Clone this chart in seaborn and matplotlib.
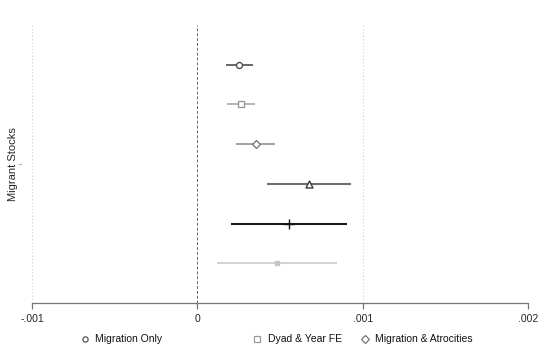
import matplotlib
matplotlib.use("Agg")
import matplotlib.pyplot as plt
from matplotlib.lines import Line2D
import seaborn as sns
import pandas as pd

# Coefficient estimates for migrant stocks across six model specifications
models = ["Migration Only", "Dyad & Year FE", "Migration & Atrocities",
          "Model 4", "Model 5", "Model 6"]
estimate = [0.000254, 0.000266, 0.000357, 0.000678, 0.000555, 0.000482]
ci_low = [0.000175, 0.000181, 0.000236, 0.000424, 0.000206, 0.000119]
ci_high = [0.000339, 0.000351, 0.000472, 0.000932, 0.000906, 0.000845]
xticks = [-0.001, 0, 0.001, 0.002]
xtick_labels = ["-.001", "0", ".001", ".002"]
legend_models = ["Migration Only", "Dyad & Year FE", "Migration & Atrocities"]

df = pd.DataFrame({"model": models, "est": estimate, "lo": ci_low, "hi": ci_high})
df["row"] = range(1, len(df) + 1)

markers = ["o", "s", "D", "^", "+", "s"]
msizes = [4.3, 4.3, 4.0, 5.0, 6.5, 3.2]
mcolors = ["#505050", "#9a9a9a", "#7a7a7a", "#3a3a3a", "#111111", "#c4c4c4"]
lcolors = ["#5a5a5a", "#b0b0b0", "#9a9a9a", "#6e6e6e", "#1a1a1a", "#c8c8c8"]
lwidths = [1.3, 1.3, 1.3, 1.5, 1.5, 1.1]
filled = [False, False, False, False, True, True]

sns.set_style("white")
plt.rcParams["font.family"] = ["Liberation Sans", "DejaVu Sans"]

fig = plt.figure(figsize=(5.58, 3.49), dpi=100)
W, H = 558, 349
ax = fig.add_axes([32 / W, 1 - 303 / H, (528 - 32) / W, (303 - 25) / H])

# Confidence interval lines
for i, r in df.iterrows():
    ax.hlines(r["row"], r["lo"], r["hi"], color=lcolors[i], lw=lwidths[i], zorder=2)

# Point estimates drawn through seaborn with per-model marker styles
for i, r in df.iterrows():
    sub = df.iloc[[i]]
    sns.scatterplot(data=sub, x="est", y="row", ax=ax, marker=markers[i],
                    s=msizes[i] ** 2,
                    facecolor=(mcolors[i] if filled[i] else "white"),
                    edgecolor=mcolors[i], color=mcolors[i],
                    linewidth=1.0, zorder=3, legend=False)

ax.set_xlim(-0.001, 0.002)
ax.set_ylim(7, 0)

# Reference lines
for x in [-0.001, 0.001, 0.002]:
    ax.axvline(x, color="#d0d0d0", lw=0.8, ls=(0, (1, 2)), zorder=0)
ax.axvline(0, color="#666666", lw=0.7, ls=(0, (3, 2)), zorder=1)

ax.set_xticks(xticks)
ax.set_xticklabels(xtick_labels)
ax.set_yticks([3.5])
ax.set_yticklabels(["Migrant Stocks"])
ax.set_xlabel("")
ax.set_ylabel("")

for s in ["top", "right"]:
    ax.spines[s].set_visible(False)
ax.spines["left"].set_position(("outward", 7))
ax.spines["left"].set_visible(False)
ax.spines["bottom"].set_color("#777777")
ax.spines["bottom"].set_linewidth(0.9)
ax.tick_params(axis="x", direction="out", length=4, width=0.9, color="#777777",
               labelsize=7.5, pad=4, bottom=True)
ax.tick_params(axis="y", direction="out", length=3, width=0.9, color="#bbbbbb",
               labelsize=8, pad=0, left=True, labelrotation=90)
for lab in ax.get_yticklabels():
    lab.set_va("center")
    lab.set_ha("right")

# Legend row below the plot
leg_y = 1 - 339 / H
leg_items = [(85, 95, "o", "#555555"), (257, 268, "s", "#999999"), (365, 375, "D", "#777777")]
for (mx, tx, mk, col), name in zip(leg_items, legend_models):
    fig.add_artist(Line2D([mx / W], [leg_y], marker=mk, ls="none",
                          markersize=3.8 if mk != "D" else 3.6,
                          markerfacecolor="white", markeredgecolor=col,
                          markeredgewidth=0.9, transform=fig.transFigure))
    fig.text(tx / W, leg_y, name, fontsize=7.5, va="center", ha="left", color="#111111")

fig.savefig("out.png", dpi=100)
